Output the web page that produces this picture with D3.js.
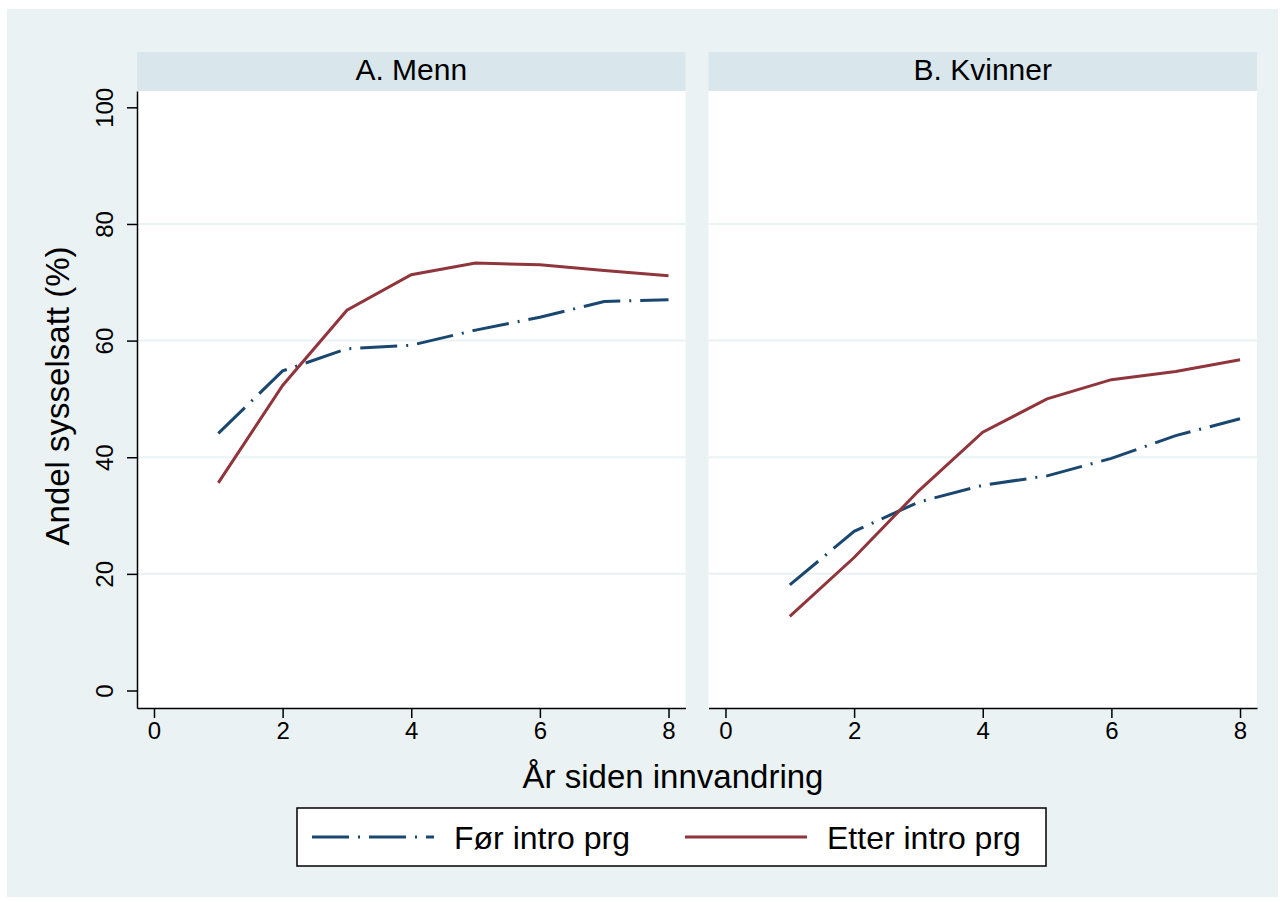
<!DOCTYPE html>
<html>
<head>
<meta charset="utf-8">
<script src="https://cdn.jsdelivr.net/npm/d3@7"></script>
<style>
  body { margin: 0; background: #fff; }
  text { font-family: "Liberation Sans", Arial, sans-serif; fill: #000; }
</style>
</head>
<body>
<div id="main"></div>
<script>
const ctx = {
    WIDTH: 1284,
    HEIGHT: 901,
};

// data
const years = [1, 2, 3, 4, 5, 6, 7, 8];
const panels = ["A. Menn", "B. Kvinner"];
const seriesNames = ["Før intro prg", "Etter intro prg"];
const mennFor   = [44.1, 54.8, 58.6, 59.2, 61.8, 64.0, 66.7, 67.0];
const mennEtter = [35.6, 52.3, 65.2, 71.3, 73.3, 73.0, 72.0, 71.1];
const kvinnerFor   = [18.1, 27.3, 32.3, 35.2, 36.8, 39.8, 43.7, 46.6];
const kvinnerEtter = [12.7, 22.8, 34.2, 44.3, 50.0, 53.3, 54.7, 56.7];
const xTicks = [0, 2, 4, 6, 8];
const yTicks = [0, 20, 40, 60, 80, 100];
const yGrid = [20, 40, 60, 80];

const colors = ["#1a476f", "#90353b"];
const dashes = ["37,9,2,9", null];

function drawPanel(svg, left, right, title, values, showY) {
    let x = d3.scaleLinear().domain([-0.264, 8.264]).range([left, right]);
    let y = d3.scaleLinear().domain([-3, 102.8]).range([708, 91]);

    let g = svg.append("g");

    // strip
    g.append("rect")
        .attr("x", left).attr("y", 52)
        .attr("width", right - left).attr("height", 39)
        .style("fill", "#d9e6eb");
    g.append("text")
        .attr("x", (left + right) / 2).attr("y", 80)
        .attr("text-anchor", "middle")
        .style("font-size", "30px")
        .text(title);

    // plot region
    g.append("rect")
        .attr("x", left).attr("y", 91)
        .attr("width", right - left).attr("height", 617)
        .style("fill", "#fff");

    g.selectAll("line.grid")
        .data(yGrid)
        .enter()
        .append("line")
        .attr("class", "grid")
        .attr("x1", left).attr("x2", right)
        .attr("y1", d => y(d)).attr("y2", d => y(d))
        .style("stroke", "#eaf2f3")
        .style("stroke-width", 2);

    let line = d3.line()
        .x((d, i) => x(years[i]))
        .y(d => y(d));

    values.forEach((vals, k) => {
        g.append("path")
            .datum(vals)
            .attr("d", line)
            .style("fill", "none")
            .style("stroke", colors[k])
            .style("stroke-width", 3)
            .style("stroke-dasharray", dashes[k]);
    });

    // x axis
    let xAxis = g.append("g")
        .attr("transform", "translate(0,708)")
        .call(d3.axisBottom(x).tickValues(xTicks).tickSize(10).tickPadding(6).tickSizeOuter(0));
    xAxis.select(".domain").style("stroke", "#000").style("stroke-width", 1.5);
    xAxis.selectAll(".tick line").style("stroke", "#000").style("stroke-width", 1.5);
    xAxis.selectAll("text")
        .style("font-size", "24px")
        .style("font-family", "Liberation Sans, Arial, sans-serif")
        .attr("dy", null)
        .attr("y", 31);

    if (showY) {
        let yAxis = g.append("g")
            .attr("transform", `translate(${left},0)`)
            .call(d3.axisLeft(y).tickValues(yTicks).tickSize(10).tickSizeOuter(0));
        yAxis.select(".domain").style("stroke", "#000").style("stroke-width", 1.5);
        yAxis.selectAll(".tick line").style("stroke", "#000").style("stroke-width", 1.5);
        yAxis.selectAll("text")
            .style("font-size", "24px")
            .style("font-family", "Liberation Sans, Arial, sans-serif")
            .attr("x", null).attr("dy", null)
            .attr("text-anchor", "middle")
            .attr("transform", "translate(-24,0) rotate(-90)");
    }
}

function createViz() {
    let svg = d3.select("#main").append("svg")
        .attr("width", ctx.WIDTH)
        .attr("height", ctx.HEIGHT);

    svg.append("rect")
        .attr("x", 7).attr("y", 9)
        .attr("width", 1271).attr("height", 888)
        .style("fill", "#eaf2f3");

    drawPanel(svg, 137, 685.5, panels[0], [mennFor, mennEtter], true);
    drawPanel(svg, 708.5, 1257, panels[1], [kvinnerFor, kvinnerEtter], false);

    // axis titles
    svg.append("text")
        .attr("x", 673).attr("y", 788)
        .attr("text-anchor", "middle")
        .style("font-size", "33px")
        .text("År siden innvandring");
    svg.append("text")
        .attr("transform", "translate(69,396) rotate(-90)")
        .attr("text-anchor", "middle")
        .style("font-size", "33px")
        .text("Andel sysselsatt (%)");

    // legend
    let legend = svg.append("g");
    legend.append("rect")
        .attr("x", 297).attr("y", 808)
        .attr("width", 749).attr("height", 58)
        .style("fill", "#fff")
        .style("stroke", "#000")
        .style("stroke-width", 1.5);
    const legendX = [312, 685];
    seriesNames.forEach((name, k) => {
        legend.append("line")
            .attr("x1", legendX[k]).attr("x2", legendX[k] + 122)
            .attr("y1", 837).attr("y2", 837)
            .style("stroke", colors[k])
            .style("stroke-width", 3)
            .style("stroke-dasharray", dashes[k]);
        legend.append("text")
            .attr("x", legendX[k] + 142).attr("y", 849)
            .style("font-size", "32px")
            .text(name);
    });
}

createViz();
</script>
</body>
</html>
